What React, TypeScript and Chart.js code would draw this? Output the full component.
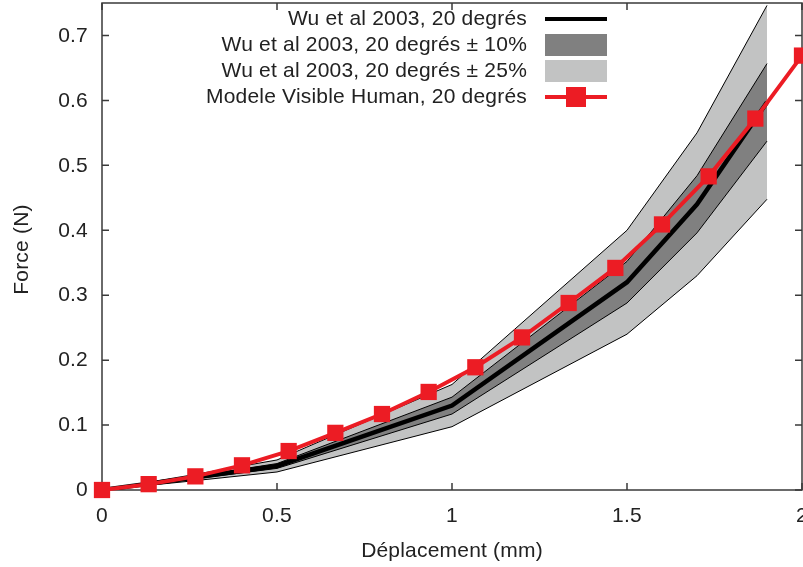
import React, { useEffect, useRef } from "react";
import { Chart, registerables } from "chart.js";

Chart.register(...registerables);

// Wu et al 2003 reference curve (20 degrés)
const wuX = [0, 0.25, 0.5, 1, 1.5, 1.7, 1.9];
const wuY = [0, 0.018, 0.037, 0.13, 0.32, 0.44, 0.597];
const band10 = 0.1;
const band25 = 0.25;

// Modele Visible Human, 20 degrés
const modelX = [0, 0.1333, 0.2667, 0.4, 0.5333, 0.6667, 0.8, 0.9333, 1.0667, 1.2, 1.3333, 1.4667, 1.6, 1.7333, 1.8667, 2.0];
const modelY = [0, 0.009, 0.021, 0.038, 0.06, 0.088, 0.117, 0.151, 0.189, 0.235, 0.288, 0.342, 0.409, 0.483, 0.572, 0.669];

const xTicks = [0, 0.5, 1, 1.5, 2];
const xTickLabels = ["0", "0.5", "1", "1.5", "2"];
const yTicks = [0, 0.1, 0.2, 0.3, 0.4, 0.5, 0.6, 0.7];
const yTickLabels = ["0", "0.1", "0.2", "0.3", "0.4", "0.5", "0.6", "0.7"];

const xTitle = "Déplacement (mm)";
const yTitle = "Force (N)";
const legendLabels = [
  "Wu et al 2003, 20 degrés",
  "Wu et al 2003, 20 degrés ± 10%",
  "Wu et al 2003, 20 degrés ± 25%",
  "Modele Visible Human, 20 degrés",
];

const FONT = "'Liberation Sans', Arial, sans-serif";
const FONT_PX = 21;
const RED = "#ec1c24";
const DARK = "#808080";
const LIGHT = "#c2c3c3";
const TEXT = "#222";

const framePlugin = {
  id: "frame",
  beforeDatasetsDraw(chart: any) {
    const { ctx, chartArea } = chart;
    const { left, right, top, bottom } = chartArea;
    const xs = chart.scales.x;
    const ys = chart.scales.y;
    ctx.save();
    ctx.strokeStyle = "#3a3a3a";
    ctx.lineWidth = 1.5;
    ctx.strokeRect(left, top, right - left, bottom - top);
    ctx.beginPath();
    const tl = 7;
    xTicks.forEach((v) => {
      const px = xs.getPixelForValue(v);
      ctx.moveTo(px, bottom);
      ctx.lineTo(px, bottom - tl);
      ctx.moveTo(px, top);
      ctx.lineTo(px, top + tl);
    });
    yTicks.forEach((v) => {
      const py = ys.getPixelForValue(v);
      ctx.moveTo(left, py);
      ctx.lineTo(left + tl, py);
      ctx.moveTo(right, py);
      ctx.lineTo(right - tl, py);
    });
    ctx.stroke();

    // tick labels and axis titles
    ctx.font = `${FONT_PX}px ${FONT}`;
    ctx.fillStyle = TEXT;
    (ctx as any).letterSpacing = "0.2px";
    ctx.textBaseline = "middle";
    ctx.textAlign = "center";
    xTicks.forEach((v, i) => {
      ctx.fillText(xTickLabels[i], xs.getPixelForValue(v), bottom + 26);
    });
    ctx.textAlign = "right";
    yTicks.forEach((v, i) => {
      ctx.fillText(yTickLabels[i], left - 14, ys.getPixelForValue(v) + 0.5);
    });
    ctx.textAlign = "center";
    ctx.fillText(xTitle, (left + right) / 2, bottom + 61);
    ctx.save();
    ctx.translate(22, (top + bottom) / 2 + 3);
    ctx.rotate(-Math.PI / 2);
    ctx.fillText(yTitle, 0, 0);
    ctx.restore();
    ctx.restore();
  },
  afterDraw(chart: any) {
    const { ctx } = chart;
    ctx.save();
    ctx.font = `${FONT_PX}px ${FONT}`;
    (ctx as any).letterSpacing = "0.2px";
    ctx.fillStyle = TEXT;
    ctx.textAlign = "right";
    ctx.textBaseline = "middle";
    const textRight = 527;
    const sx0 = 545;
    const sx1 = 607;
    const rows = [19, 45, 71, 97];
    legendLabels.forEach((lbl, i) => ctx.fillText(lbl, textRight, rows[i]));
    // black line
    ctx.strokeStyle = "#000";
    ctx.lineWidth = 4;
    ctx.beginPath();
    ctx.moveTo(sx0, rows[0]);
    ctx.lineTo(sx1, rows[0]);
    ctx.stroke();
    // dark box
    ctx.fillStyle = DARK;
    ctx.fillRect(sx0, rows[1] - 11, sx1 - sx0, 22);
    // light box
    ctx.fillStyle = LIGHT;
    ctx.fillRect(sx0, rows[2] - 11, sx1 - sx0, 22);
    // red line + square
    ctx.strokeStyle = RED;
    ctx.lineWidth = 4;
    ctx.beginPath();
    ctx.moveTo(sx0, rows[3]);
    ctx.lineTo(sx1, rows[3]);
    ctx.stroke();
    ctx.fillStyle = RED;
    const mid = (sx0 + sx1) / 2;
    ctx.fillRect(mid - 10, rows[3] - 10, 20, 20);
    ctx.restore();
  },
};

export default function App() {
  const ref = useRef<HTMLCanvasElement | null>(null);
  useEffect(() => {
    document.body.style.margin = "0";
    Chart.defaults.font.family = FONT;
    const wu = wuX.map((x, i) => ({ x, y: wuY[i] }));
    const hi10 = wuX.map((x, i) => ({ x, y: wuY[i] * (1 + band10) }));
    const lo10 = wuX.map((x, i) => ({ x, y: wuY[i] * (1 - band10) }));
    const hi25 = wuX.map((x, i) => ({ x, y: wuY[i] * (1 + band25) }));
    const lo25 = wuX.map((x, i) => ({ x, y: wuY[i] * (1 - band25) }));
    const model = modelX.map((x, i) => ({ x, y: modelY[i] }));
    const chart = new Chart(ref.current as HTMLCanvasElement, {
      type: "line",
      data: {
        datasets: [
          {
            label: legendLabels[3],
            data: model,
            borderColor: RED,
            backgroundColor: RED,
            borderWidth: 4,
            pointStyle: "rect",
            pointRadius: 11.5,
            pointHoverRadius: 11.5,
            pointBorderWidth: 0,
            fill: false,
            clip: false as any,
            order: 0,
          },
          {
            label: legendLabels[0],
            data: wu,
            borderColor: "#000",
            borderWidth: 4.5,
            pointRadius: 0,
            fill: false,
            order: 1,
          },
          {
            label: legendLabels[1],
            data: hi10,
            borderColor: "#000",
            borderWidth: 1,
            backgroundColor: DARK,
            pointRadius: 0,
            fill: "+1",
            order: 3,
          },
          {
            label: "lo10",
            data: lo10,
            borderColor: "#000",
            borderWidth: 1,
            pointRadius: 0,
            fill: false,
            order: 2,
          },
          {
            label: legendLabels[2],
            data: hi25,
            borderColor: "#000",
            borderWidth: 1,
            backgroundColor: LIGHT,
            pointRadius: 0,
            fill: "+1",
            order: 5,
          },
          {
            label: "lo25",
            data: lo25,
            borderColor: "#000",
            borderWidth: 1,
            pointRadius: 0,
            fill: false,
            order: 4,
          },
        ],
      },
      options: {
        responsive: false,
        animation: false,
        devicePixelRatio: 1,
        layout: { autoPadding: false, padding: { left: 0, right: 1, top: 3, bottom: 0 } },
        plugins: { legend: { display: false }, tooltip: { enabled: false } },
        elements: { line: { tension: 0 } },
        scales: {
          x: {
            type: "linear",
            min: 0,
            max: 2,
            grid: { display: false, drawTicks: false },
            border: { display: false },
            ticks: { display: false },
            afterBuildTicks: (s: any) => {
              s.ticks = xTicks.map((v) => ({ value: v }));
            },
            afterFit: (s: any) => {
              s.height = 77;
              s.paddingLeft = 0;
              s.paddingRight = 0;
            },
          },
          y: {
            type: "linear",
            min: 0,
            max: 0.75,
            grid: { display: false, drawTicks: false },
            border: { display: false },
            ticks: { display: false },
            afterBuildTicks: (s: any) => {
              s.ticks = yTicks.map((v) => ({ value: v }));
            },
            afterFit: (s: any) => {
              s.width = 102;
              s.paddingTop = 0;
              s.paddingBottom = 0;
            },
          },
        },
      },
      plugins: [framePlugin],
    });
    return () => chart.destroy();
  }, []);
  return (
    <div style={{ width: 803, height: 567 }}>
      <canvas ref={ref} width={803} height={567} style={{ display: "block" }} />
    </div>
  );
}
